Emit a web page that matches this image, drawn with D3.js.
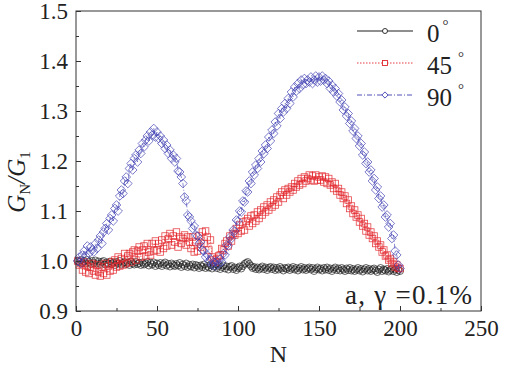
<!DOCTYPE html>
<html><head><meta charset="utf-8">
<script src="https://cdn.jsdelivr.net/npm/d3@7"></script>
<style>body{margin:0;background:#fff}svg{display:block}</style>
</head><body>
<script>
const xTicks = [0, 50, 100, 150, 200, 250];
const yTicks = [0.9, 1.0, 1.1, 1.2, 1.3, 1.4, 1.5];
const yTickLabels = ["0.9", "1.0", "1.1", "1.2", "1.3", "1.4", "1.5"];
const seriesNames = ["0°", "45°", "90°"];

const deg0 = [
1.000,0.998,1.002,0.996,1.000,0.995,1.002,0.998,0.994,1.000,
0.996,1.001,0.995,0.999,0.994,0.998,1.000,0.993,0.997,0.995,
0.999,0.994,0.997,0.992,0.998,0.995,1.000,0.993,0.996,0.998,
0.994,0.997,0.992,0.999,0.995,0.993,0.998,0.994,0.996,0.992,
0.997,0.993,0.995,0.998,0.991,0.996,0.993,0.997,0.990,0.995,
0.992,0.996,0.990,0.994,0.997,0.991,0.994,0.989,0.995,0.992,
0.990,0.994,0.991,0.996,0.988,0.993,0.990,0.995,0.988,0.992,
0.989,0.993,0.987,0.992,0.990,0.986,0.991,0.988,0.993,0.986,
0.990,0.987,0.992,0.985,0.989,0.994,0.986,0.990,0.984,0.988,
0.991,0.985,0.989,0.983,0.988,0.990,0.984,0.987,0.982,0.986,
0.989,0.985,0.990,0.994,0.996,0.998,0.994,0.990,0.986,0.988,
0.984,0.987,0.983,0.986,0.989,0.984,0.987,0.982,0.986,0.988,
0.984,0.987,0.982,0.986,0.983,0.988,0.985,0.981,0.986,0.984,
0.987,0.982,0.985,0.988,0.983,0.986,0.981,0.985,0.988,0.983,
0.986,0.982,0.985,0.987,0.983,0.986,0.980,0.984,0.987,0.983,
0.985,0.981,0.986,0.983,0.987,0.982,0.985,0.980,0.984,0.987,
0.982,0.985,0.981,0.986,0.983,0.980,0.985,0.982,0.986,0.981,
0.984,0.980,0.983,0.986,0.981,0.984,0.979,0.983,0.986,0.981,
0.984,0.980,0.983,0.985,0.981,0.978,0.983,0.986,0.980,0.983,
0.981,0.984,0.979,0.982,0.985,0.980,0.983,0.978,0.982,0.980];

const deg45 = [
1.000,0.992,0.995,0.982,0.998,0.978,0.990,0.975,0.988,0.995,
0.980,0.972,0.992,0.978,0.970,0.988,0.975,0.995,0.972,0.990,
0.980,0.998,0.982,1.002,0.988,1.008,0.990,1.005,0.992,1.015,
0.995,1.010,1.015,0.998,1.018,1.022,1.002,1.020,1.028,1.008,
1.022,1.030,1.010,1.035,1.018,1.012,1.035,1.020,1.040,1.022,
1.035,1.018,1.042,1.025,1.050,1.030,1.045,1.055,1.032,1.050,
1.038,1.058,1.028,1.048,1.035,1.045,1.052,1.032,1.048,1.038,
1.025,1.048,1.018,1.038,1.020,1.050,1.028,1.058,1.035,1.060,
1.048,1.022,1.042,1.008,1.002,0.998,1.005,1.010,1.012,1.025,
1.022,1.035,1.040,1.030,1.050,1.040,1.055,1.052,1.065,1.055,
1.072,1.060,1.078,1.062,1.080,1.085,1.070,1.090,1.075,1.092,
1.080,1.098,1.085,1.102,1.092,1.108,1.098,1.112,1.102,1.118,
1.108,1.122,1.112,1.128,1.118,1.132,1.138,1.125,1.142,1.132,
1.145,1.138,1.148,1.142,1.155,1.148,1.160,1.152,1.165,1.155,
1.168,1.160,1.165,1.172,1.162,1.170,1.160,1.172,1.162,1.168,
1.162,1.170,1.158,1.168,1.155,1.165,1.152,1.158,1.145,1.155,
1.140,1.145,1.132,1.138,1.125,1.130,1.115,1.122,1.105,1.110,
1.095,1.102,1.088,1.092,1.078,1.085,1.070,1.075,1.060,1.068,
1.052,1.058,1.045,1.050,1.035,1.040,1.028,1.032,1.018,1.022,
1.010,1.012,1.002,1.005,0.995,0.998,0.988,0.992,0.985,0.985];

const deg90 = [
1.000,1.008,0.995,1.012,1.020,1.010,1.030,1.015,1.028,1.022,
1.018,1.035,1.025,1.042,1.050,1.035,1.058,1.065,1.075,1.062,
1.085,1.092,1.080,1.105,1.112,1.100,1.130,1.142,1.135,1.160,
1.168,1.155,1.185,1.195,1.182,1.205,1.212,1.198,1.222,1.215,
1.235,1.228,1.242,1.250,1.240,1.258,1.252,1.265,1.248,1.258,
1.245,1.250,1.235,1.242,1.225,1.232,1.215,1.222,1.205,1.212,
1.198,1.205,1.180,1.178,1.168,1.155,1.128,1.120,1.092,1.088,
1.080,1.065,1.070,1.052,1.050,1.035,1.038,1.022,1.020,1.008,
1.012,1.000,1.004,0.992,0.998,0.990,1.000,0.994,1.004,0.998,
1.015,1.012,1.032,1.030,1.048,1.045,1.062,1.060,1.082,1.080,
1.100,1.098,1.120,1.118,1.140,1.138,1.160,1.155,1.178,1.172,
1.192,1.185,1.205,1.198,1.220,1.215,1.232,1.225,1.248,1.240,
1.262,1.255,1.278,1.270,1.295,1.285,1.305,1.298,1.315,1.305,
1.325,1.315,1.338,1.328,1.348,1.340,1.355,1.345,1.362,1.352,
1.365,1.355,1.362,1.358,1.368,1.355,1.362,1.370,1.358,1.368,
1.360,1.370,1.362,1.365,1.355,1.360,1.345,1.352,1.338,1.345,
1.330,1.335,1.318,1.322,1.302,1.308,1.290,1.295,1.275,1.280,
1.260,1.265,1.245,1.250,1.230,1.235,1.212,1.218,1.195,1.198,
1.178,1.182,1.160,1.165,1.142,1.148,1.125,1.130,1.108,1.112,
1.088,1.092,1.068,1.075,1.045,1.052,1.020,1.012,0.992,0.985];

const FONT = '"Liberation Serif"';
const W = 511, H = 369;
const m = {l: 76, t: 11, r: 30, b: 58};
const svg = d3.select("body").append("svg").attr("width", W).attr("height", H);
const x = d3.scaleLinear().domain([0, 250]).range([m.l, W - m.r]);
const y = d3.scaleLinear().domain([0.9, 1.5]).range([H - m.b, m.t]);

const series = [
  {name: seriesNames[0], vals: deg0, color: "#1e1e1e", dash: null, shape: "circle", size: 7},
  {name: seriesNames[1], vals: deg45, color: "#e3262c", dash: "1.5,1.5", shape: "square", size: 6.5},
  {name: seriesNames[2], vals: deg90, color: "#3d3db2", dash: "5,2,1,2", shape: "diamond", size: 7}
];

function marker(g, shape, cx, cy, s) {
  if (shape === "circle") g.append("circle").attr("cx", cx).attr("cy", cy).attr("r", s / 2);
  else if (shape === "square") g.append("rect").attr("x", cx - s / 2).attr("y", cy - s / 2).attr("width", s).attr("height", s);
  else g.append("path").attr("d", `M${cx},${cy - s * 0.62}L${cx + s * 0.62},${cy}L${cx},${cy + s * 0.62}L${cx - s * 0.62},${cy}Z`);
}
function txt(sel) { return sel.style("font-family", FONT).attr("fill", "#222"); }

const plot = svg.append("g");
series.forEach(s => {
  const pts = s.vals.map((v, i) => [i + 1, v]);
  const line = d3.line().x(d => x(d[0])).y(d => y(d[1]));
  plot.append("path").attr("d", line(pts)).attr("fill", "none")
    .attr("stroke", s.color).attr("stroke-width", 0.6)
    .attr("stroke-dasharray", s.dash);
  const g = plot.append("g").attr("fill", "none").attr("stroke", s.color).attr("stroke-width", 0.8).attr("stroke-opacity", 0.85);
  pts.forEach(d => marker(g, s.shape, x(d[0]), y(d[1]), s.size));
});

svg.append("rect").attr("x", m.l).attr("y", m.t).attr("width", W - m.r - m.l).attr("height", H - m.b - m.t)
  .attr("fill", "none").attr("stroke", "#333").attr("stroke-width", 1);

function styleAxis(g) {
  g.attr("font-family", null);
  g.select(".domain").remove();
  g.selectAll("line").attr("stroke", "#333");
  txt(g.selectAll("text").attr("font-size", 23));
}
const gx = svg.append("g").attr("transform", `translate(0,${H - m.b})`)
  .call(d3.axisBottom(x).tickValues(xTicks).tickSizeInner(-5).tickSizeOuter(0).tickPadding(9));
styleAxis(gx);
const gx2 = svg.append("g").attr("transform", `translate(0,${H - m.b})`)
  .call(d3.axisBottom(x).tickValues([25, 75, 125, 175, 225]).tickSizeInner(-3).tickSizeOuter(0).tickFormat(""));
styleAxis(gx2);
const gy = svg.append("g").attr("transform", `translate(${m.l},0)`)
  .call(d3.axisLeft(y).tickValues(yTicks).tickSizeInner(-5).tickSizeOuter(0).tickPadding(8).tickFormat((d, i) => yTickLabels[i]));
styleAxis(gy);
const gy2 = svg.append("g").attr("transform", `translate(${m.l},0)`)
  .call(d3.axisLeft(y).tickValues([0.95, 1.05, 1.15, 1.25, 1.35, 1.45]).tickSizeInner(-3).tickSizeOuter(0).tickFormat(""));
styleAxis(gy2);

txt(svg.append("text")).attr("x", x(125)).attr("y", 362).attr("text-anchor", "middle").attr("font-size", 24).text("N");
const yl = txt(svg.append("text")).attr("transform", `translate(25,182) rotate(-90)`).attr("text-anchor", "middle")
  .attr("font-size", 25);
yl.append("tspan").attr("font-style", "italic").text("G");
yl.append("tspan").attr("font-size", 15).attr("dy", 5).text("N");
yl.append("tspan").attr("font-style", "italic").attr("dy", -5).text("/G");
yl.append("tspan").attr("font-size", 15).attr("dy", 5).text("1");

const legY = [31, 63, 95];
const legLabels = ["0", "45", "90"];
series.forEach((s, i) => {
  const ly = legY[i];
  svg.append("line").attr("x1", 357).attr("x2", 413).attr("y1", ly).attr("y2", ly)
    .attr("stroke", s.color).attr("stroke-width", i === 0 ? 1.2 : 0.9).attr("stroke-dasharray", s.dash);
  const g = svg.append("g").attr("fill", "#fff").attr("stroke", s.color).attr("stroke-width", 0.9);
  marker(g, s.shape, 385, ly, 5);
  const t = txt(svg.append("text")).attr("x", 427).attr("y", ly + 11).attr("font-size", 25);
  t.append("tspan").text(legLabels[i]);
  t.append("tspan").attr("dx", i === 0 ? 3 : 6).attr("dy", -12).attr("font-size", 15).text("°");
});

txt(svg.append("text")).attr("x", 345).attr("y", 304).attr("font-size", 27)
  .attr("textLength", 127).attr("lengthAdjust", "spacing").text("a, γ =0.1%");
</script>
</body></html>
